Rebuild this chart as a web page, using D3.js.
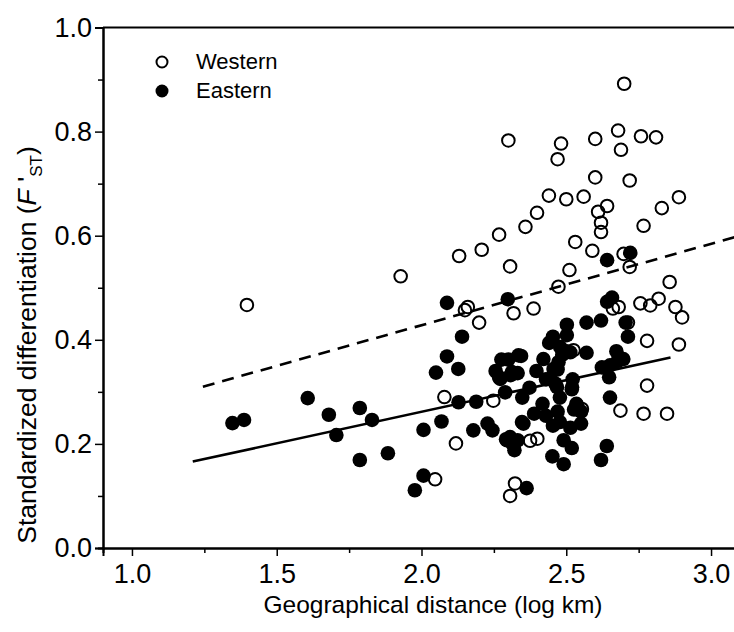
<!DOCTYPE html>
<html><head><meta charset="utf-8">
<script src="https://cdn.jsdelivr.net/npm/d3@7"></script>
<style>
html,body{margin:0;padding:0;background:#fff;}
svg{display:block;font-family:"Liberation Sans",Arial,sans-serif;}
</style></head>
<body><svg id="chart" width="734" height="632"></svg>
<script>
// ---- data ----
const westernX = [1.397,1.928,2.130,2.208,2.268,2.300,2.306,2.359,2.399,2.440,2.470,2.482,2.500,2.511,2.531,2.473,2.560,2.590,2.600,2.600,2.610,2.641,2.620,2.620,2.679,2.689,2.700,2.719,2.698,2.719,2.758,2.810,2.767,2.830,2.889,2.857,2.819,2.756,2.790,2.877,2.900,2.889,2.779,2.779,2.767,2.848,2.687,2.681,2.661,2.713,2.318,2.387,2.160,2.150,2.199,2.079,2.119,2.047,2.306,2.323,2.375,2.400,2.248,2.554,2.525];
const westernY = [0.467,0.522,0.561,0.573,0.602,0.783,0.541,0.617,0.644,0.677,0.747,0.777,0.670,0.534,0.588,0.502,0.675,0.571,0.786,0.712,0.646,0.657,0.625,0.607,0.802,0.765,0.892,0.706,0.565,0.540,0.791,0.789,0.619,0.653,0.674,0.511,0.479,0.470,0.466,0.463,0.443,0.391,0.398,0.312,0.258,0.258,0.264,0.463,0.460,0.433,0.451,0.460,0.463,0.457,0.433,0.290,0.201,0.132,0.100,0.124,0.206,0.210,0.283,0.267,0.380];

const easternX = [1.347,1.387,1.607,1.680,1.706,1.787,1.829,1.787,1.884,1.977,2.007,2.007,2.069,2.050,2.088,2.127,2.088,2.140,2.128,2.189,2.179,2.228,2.245,
  2.298,2.256,2.276,2.268,2.300,2.289,2.292,2.313,2.332,2.321,2.308,2.332,2.344,2.348,2.352,2.363,2.373,2.397,2.389,2.421,2.418,2.430,2.430,2.441,2.454,2.452,2.454,2.462,2.470,2.478,2.470,2.478,2.486,2.491,2.491,2.502,2.502,2.502,2.514,2.519,2.522,2.519,2.527,2.535,2.551,2.551,2.570,2.570,2.620,2.620,2.623,2.640,2.641,2.648,2.651,2.658,2.641,2.673,2.677,2.697,2.705,2.713,2.721,2.651,
  2.479,2.514,2.445,2.347,2.306,2.473,2.335,2.295,2.537,2.456,2.468,2.520,2.312,2.272];
const easternY = [0.240,0.246,0.288,0.256,0.217,0.269,0.246,0.169,0.182,0.111,0.139,0.227,0.243,0.337,0.368,0.344,0.471,0.406,0.280,0.281,0.226,0.239,0.226,
  0.478,0.340,0.362,0.328,0.362,0.299,0.209,0.201,0.207,0.188,0.332,0.336,0.369,0.289,0.239,0.115,0.308,0.340,0.258,0.363,0.277,0.254,0.324,0.394,0.406,0.176,0.235,0.316,0.262,0.242,0.343,0.289,0.371,0.207,0.161,0.429,0.409,0.378,0.231,0.192,0.324,0.305,0.266,0.277,0.239,0.262,0.433,0.375,0.437,0.169,0.347,0.196,0.473,0.328,0.289,0.481,0.553,0.378,0.359,0.363,0.433,0.406,0.567,0.351,
  0.386,0.376,0.325,0.242,0.213,0.357,0.370,0.207,0.274,0.344,0.309,0.309,0.338,0.325];

const eastFitX = [1.21, 2.86];
const eastFitY = [0.166, 0.366];
const westFitX = [1.245, 3.1];
const westFitY = [0.310, 0.600];

const xMajorTicks = [1.0, 1.5, 2.0, 2.5, 3.0];
const xMinorTicks = [1.25, 1.75, 2.25, 2.75];
const yMajorTicks = [0.0, 0.2, 0.4, 0.6, 0.8, 1.0];
const yMinorTicks = [0.1, 0.3, 0.5, 0.7, 0.9];
const seriesNames = ["Western", "Eastern"];

// ---- drawing ----
const svg = d3.select("#chart");
const L = 103, R = 740, T = 27.5, B = 548;
const x = d3.scaleLinear().domain([0.9, 3.1]).range([L, R]);
const y = d3.scaleLinear().domain([0, 1]).range([B, T]);

svg.append("defs").append("clipPath").attr("id","clip")
  .append("rect").attr("x",L).attr("y",T).attr("width",R-L).attr("height",B-T);

const tfs = 27;
// axes
svg.append("g").attr("transform",`translate(0,${B})`)
  .call(d3.axisBottom(x).tickValues(xMajorTicks).tickFormat(d3.format(".1f")).tickSize(8).tickPadding(8));
svg.append("g").attr("transform",`translate(0,${B})`)
  .call(d3.axisBottom(x).tickValues(xMinorTicks).tickFormat("").tickSize(5));
svg.append("g").attr("transform",`translate(${L},0)`)
  .call(d3.axisLeft(y).tickValues(yMajorTicks).tickFormat(d3.format(".1f")).tickSize(8).tickPadding(3));
svg.append("g").attr("transform",`translate(${L},0)`)
  .call(d3.axisLeft(y).tickValues(yMinorTicks).tickFormat("").tickSize(5));
svg.selectAll(".domain").attr("stroke","#000").attr("stroke-width",2);
svg.selectAll(".tick line").attr("stroke","#000").attr("stroke-width",1.5);
svg.selectAll(".tick text").attr("font-size",tfs).attr("fill","#000").attr("font-family","Liberation Sans, Arial, sans-serif");
// top frame line
svg.append("line").attr("x1",L).attr("x2",R).attr("y1",T).attr("y2",T).attr("stroke","#000").attr("stroke-width",2);

const plot = svg.append("g").attr("clip-path","url(#clip)");
const line = d3.line().x(d=>x(d[0])).y(d=>y(d[1]));
plot.append("path").datum(westFitX.map((v,i)=>[v,westFitY[i]])).attr("d",line)
  .attr("stroke","#000").attr("stroke-width",2.6).attr("fill","none").attr("stroke-dasharray","12,8");
plot.append("path").datum(eastFitX.map((v,i)=>[v,eastFitY[i]])).attr("d",line)
  .attr("stroke","#000").attr("stroke-width",2.6).attr("fill","none");

const rr = 6.3;
plot.selectAll("circle.w").data(westernX.map((v,i)=>[v,westernY[i]])).enter().append("circle")
  .attr("class","w").attr("cx",d=>x(d[0])).attr("cy",d=>y(d[1])).attr("r",rr)
  .attr("fill","none").attr("stroke","#000").attr("stroke-width",2);
plot.selectAll("circle.e").data(easternX.map((v,i)=>[v,easternY[i]])).enter().append("circle")
  .attr("class","e").attr("cx",d=>x(d[0])).attr("cy",d=>y(d[1])).attr("r",rr+1)
  .attr("fill","#000");

// legend
const lg = svg.append("g");
lg.append("circle").attr("cx",162).attr("cy",62).attr("r",5.5).attr("fill","#fff").attr("stroke","#000").attr("stroke-width",2);
lg.append("circle").attr("cx",162).attr("cy",91).attr("r",6.5).attr("fill","#000");
lg.append("text").attr("x",196).attr("y",69).attr("font-size",22).text(seriesNames[0]);
lg.append("text").attr("x",196).attr("y",98).attr("font-size",22).text(seriesNames[1]);

// axis titles
svg.append("text").attr("x",433).attr("y",613).attr("text-anchor","middle").attr("font-size",24.5)
  .text("Geographical distance (log km)");
const yt = svg.append("text").attr("transform","translate(36,345) rotate(-90)").attr("text-anchor","middle").attr("font-size",26.5);
yt.append("tspan").text("Standardized differentiation (");
yt.append("tspan").attr("font-style","italic").text("F");
yt.append("tspan").text(" '");
yt.append("tspan").attr("font-size",17).attr("dy",6).text("ST");
yt.append("tspan").attr("dy",-6).text(")");
</script></body></html>
